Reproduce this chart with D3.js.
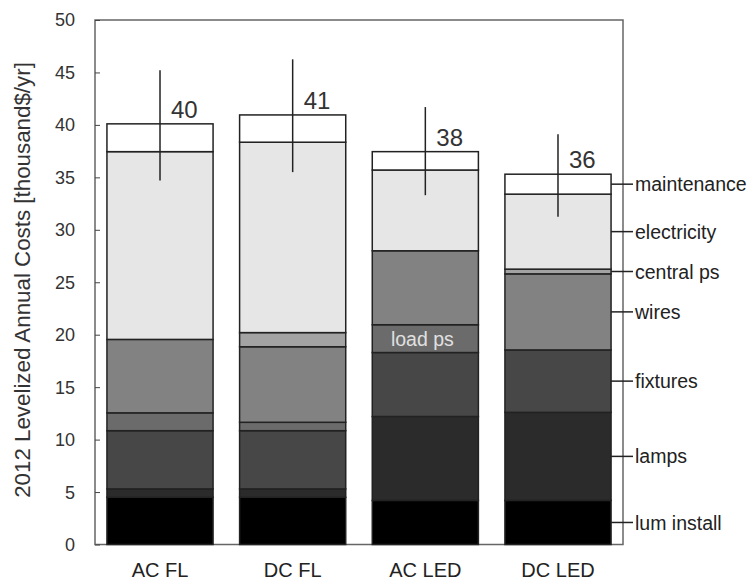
<!DOCTYPE html>
<html>
<head>
<meta charset="utf-8">
<script src="https://cdn.jsdelivr.net/npm/d3@7"></script>
<style>
  body { margin: 0; background: #fff; }
  text { font-family: "Liberation Sans", Arial, sans-serif; }
</style>
</head>
<body>
<div id="chart"></div>
<script>
// categories and stacked components (thousand $/yr)
const categories = ["AC FL", "DC FL", "AC LED", "DC LED"];
const components = ["lum install", "lamps", "fixtures", "load ps", "wires", "central ps", "electricity", "maintenance"];
const lumInstall  = [4.5, 4.5, 4.2, 4.2];
const lamps       = [0.8, 0.8, 8.0, 8.4];
const fixtures    = [5.55, 5.55, 6.1, 5.95];
const loadPs      = [1.7, 0.8, 2.65, 0];
const wires       = [7.0, 7.2, 7.05, 7.25];
const centralPs   = [0, 1.35, 0, 0.45];
const electricity = [17.9, 18.15, 7.7, 7.15];
const maintenance = [2.65, 2.6, 1.75, 1.9];
const totalLabels = ["40", "41", "38", "36"];
const errLow  = [34.7, 35.5, 33.3, 31.25];
const errHigh = [45.2, 46.25, 41.7, 39.1];
const yTicks = [0, 5, 10, 15, 20, 25, 30, 35, 40, 45, 50];

const series = [lumInstall, lamps, fixtures, loadPs, wires, centralPs, electricity, maintenance];
const fills = ["#000000", "#2b2b2b", "#474747", "#6b6b6b", "#828282", "#a3a3a3", "#e6e6e6", "#ffffff"];

const rows = categories.map((c, i) => {
    const r = { cat: c };
    components.forEach((k, j) => r[k] = series[j][i]);
    return r;
});

const width = 748, height = 581;
const plot = { left: 95, right: 623, top: 20, bottom: 544.5 };

const svg = d3.select("#chart").append("svg")
    .attr("width", width)
    .attr("height", height);

const x = d3.scaleBand()
    .domain(categories)
    .range([plot.left, plot.right])
    .paddingInner(0.2)
    .paddingOuter(0.09);

const y = d3.scaleLinear()
    .domain([0, 50])
    .range([plot.bottom, plot.top]);

const stacked = d3.stack().keys(components)(rows);
const color = d3.scaleOrdinal().domain(components).range(fills);

// frame
svg.append("rect")
    .attr("x", plot.left).attr("y", plot.top)
    .attr("width", plot.right - plot.left).attr("height", plot.bottom - plot.top)
    .attr("fill", "none")
    .attr("stroke", "#666")
    .attr("stroke-width", 1.5);

// left axis, ticks pointing in
const yAxis = svg.append("g")
    .attr("transform", `translate(${plot.left},0)`)
    .call(d3.axisRight(y).tickValues(yTicks).tickSize(5).tickFormat(""));
yAxis.select(".domain").remove();
yAxis.selectAll("line").attr("stroke", "#444");

svg.append("g").selectAll("text")
    .data(yTicks)
    .enter().append("text")
    .attr("x", plot.left - 20)
    .attr("y", d => y(d))
    .attr("dy", "0.36em")
    .attr("text-anchor", "end")
    .style("font-size", "18px")
    .style("fill", "#333")
    .text(d => d);

// y title, sized to span the same length as the original
const yTitle = svg.append("text")
    .attr("transform", "translate(30,280) rotate(-90)")
    .attr("text-anchor", "middle")
    .style("font-size", "19px")
    .style("fill", "#333")
    .text("2012 Levelized Annual Costs [thousand$/yr]");
const tl = yTitle.node().getComputedTextLength();
if (tl > 0) yTitle.style("font-size", (19 * 436 / tl).toFixed(2) + "px");

// stacked bars
const layers = svg.append("g").selectAll("g")
    .data(stacked)
    .enter().append("g")
    .attr("fill", d => color(d.key));

layers.selectAll("rect")
    .data(d => d.filter(s => s[1] - s[0] > 0))
    .enter().append("rect")
    .attr("x", d => x(d.data.cat))
    .attr("y", d => y(d[1]))
    .attr("width", x.bandwidth())
    .attr("height", d => y(d[0]) - y(d[1]))
    .attr("stroke", "#222")
    .attr("stroke-width", 1.5);

// error bars
svg.append("g").selectAll("line")
    .data(categories)
    .enter().append("line")
    .attr("x1", d => x(d) + x.bandwidth() / 2)
    .attr("x2", d => x(d) + x.bandwidth() / 2)
    .attr("y1", (d, i) => y(errLow[i]))
    .attr("y2", (d, i) => y(errHigh[i]))
    .attr("stroke", "#222")
    .attr("stroke-width", 1.5);

// totals
const topLayer = stacked[stacked.length - 1];
svg.append("g").selectAll("text")
    .data(categories)
    .enter().append("text")
    .attr("x", d => x(d) + x.bandwidth() / 2 + 11)
    .attr("y", (d, i) => y(topLayer[i][1]) - 6)
    .style("font-size", "24px")
    .style("fill", "#333")
    .text((d, i) => totalLabels[i]);

// x labels
svg.append("g").selectAll("text")
    .data(categories)
    .enter().append("text")
    .attr("x", d => x(d) + x.bandwidth() / 2)
    .attr("y", 577)
    .attr("text-anchor", "middle")
    .style("font-size", "20px")
    .style("fill", "#222")
    .text(d => d);

// "load ps" label inside AC LED
const lp = stacked[components.indexOf("load ps")][2];
svg.append("text")
    .attr("x", x("AC LED") + x.bandwidth() / 2 - 3)
    .attr("y", (y(lp[0]) + y(lp[1])) / 2)
    .attr("dy", "0.36em")
    .attr("text-anchor", "middle")
    .style("font-size", "19.5px")
    .style("fill", "#e0e0e0")
    .text("load ps");

// right-hand labels at DC LED segment midpoints
const last = categories.length - 1;
const legendKeys = components.filter(k => k !== "load ps");
const lg = svg.append("g").selectAll("g")
    .data(legendKeys)
    .enter().append("g")
    .attr("transform", k => {
        const s = stacked[components.indexOf(k)][last];
        return `translate(0,${(y(s[0]) + y(s[1])) / 2})`;
    });
lg.append("line")
    .attr("x1", x("DC LED") + x.bandwidth())
    .attr("x2", plot.right + 10)
    .attr("stroke", "#222")
    .attr("stroke-width", 1.5);
lg.append("text")
    .attr("x", plot.right + 12)
    .attr("dy", "0.36em")
    .style("font-size", "19.5px")
    .style("fill", "#222")
    .text(k => k);
</script>
</body>
</html>
